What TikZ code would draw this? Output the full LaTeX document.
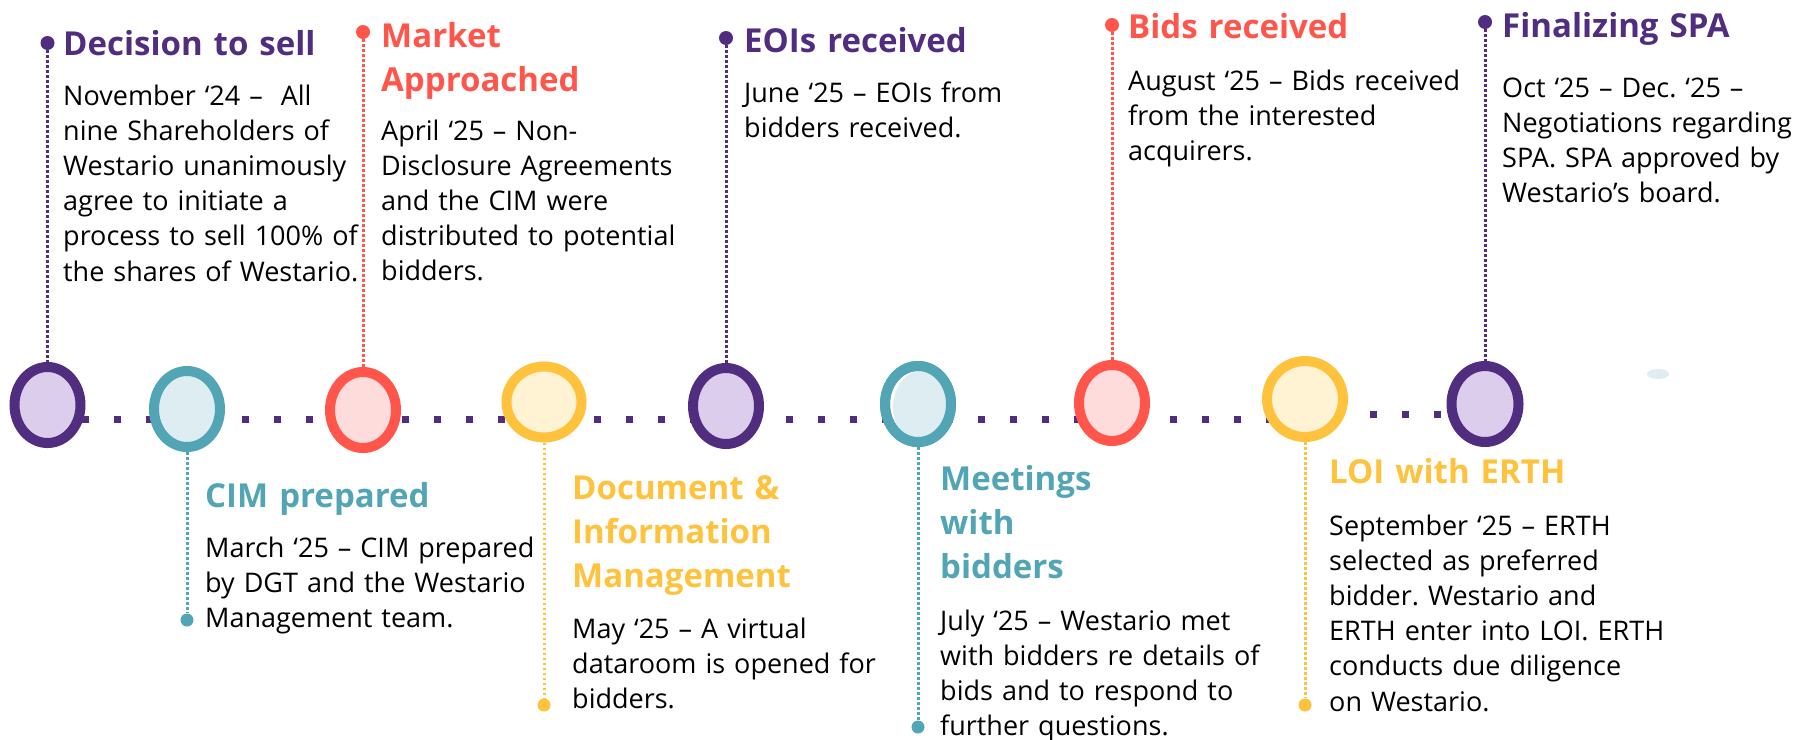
\documentclass[tikz,border=0pt]{standalone}
\usepackage{fontspec}
\setmainfont{Open Sans}
\usetikzlibrary{shapes.geometric,backgrounds}
\definecolor{cpur}{HTML}{502D7F}
\definecolor{cpurL}{HTML}{DBCDEB}
\definecolor{cteal}{HTML}{52A5B5}
\definecolor{ctealL}{HTML}{DDEDF1}
\definecolor{cred}{HTML}{FF554B}
\definecolor{credL}{HTML}{FFDCDC}
\definecolor{cyel}{HTML}{FFC23D}
\definecolor{cyelL}{HTML}{FFF3D4}
\frenchspacing
\hyphenpenalty=10000
\begin{document}
\begin{tikzpicture}[x=1pt,y=-1pt,
  ring/.style={ellipse, line width=10pt, inner sep=0pt, minimum width=66pt, minimum height=76pt},
  pin/.style={circle, inner sep=0pt, minimum size=14pt},
  bpin/.style={circle, inner sep=0pt, minimum size=13pt},
  vline/.style={line width=3pt, dash pattern=on 2.5pt off 2.5pt},
  hline/.style={draw=cpur, line width=7pt, dash pattern=on 7pt off 25pt},
  head/.style={anchor=base west, inner sep=0pt, text width=400pt, align=left, font=\fontsize{33}{44}\selectfont\bfseries},
  body/.style={anchor=base west, inner sep=0pt, text width=400pt, align=left, text=black, font=\fontsize{27}{35.2}\selectfont},
]
\useasboundingbox (0,0) rectangle (1806,739);

% timeline rings
\node[ring, draw=cpur, fill=cpurL] (c1) at (47.5,405) {};
\node[ring, draw=cteal, fill=ctealL] (c2) at (187,409) {};
\node[ring, draw=cred, fill=credL] (c3) at (363,410) {};
\node[ring, draw=cyel, fill=cyelL, minimum width=75pt, minimum height=71pt] (c4) at (544,402) {};
\node[ring, draw=cpur, fill=cpurL] (c5) at (726,406) {};
\node[ring, draw=cteal, fill=white] (c6) at (918,404) {};
\fill[ctealL] (924,407) ellipse [x radius=31, y radius=37];
\draw[cteal, line width=10pt] (c6.center) ellipse [x radius=33, y radius=38];
\node[ring, draw=cred, fill=credL] (c7) at (1112,403) {};
\node[ring, draw=cyel, fill=cyelL, minimum width=76pt, minimum height=76pt] (c8) at (1305,399) {};
\node[ring, draw=cpur, fill=cpurL, minimum width=67pt] (c9) at (1485,404) {};
\node[ellipse, fill=ctealL, inner sep=0pt, minimum width=22pt, minimum height=10pt] (sm) at (1658,374) {};

% pins
\node[pin, fill=cpur] (p1) at (47.5,43) {};
\node[pin, fill=cred] (p3) at (363,32) {};
\node[pin, fill=cpur] (p5) at (726,38) {};
\node[pin, fill=cred] (p7) at (1112,25) {};
\node[pin, fill=cpur] (p9) at (1485,22) {};
\node[bpin, fill=cteal] (p2) at (187,620) {};
\node[bpin, fill=cyel] (p4) at (544,705) {};
\node[bpin, fill=cteal] (p6) at (918,727) {};
\node[bpin, fill=cyel] (p8) at (1305,705) {};

% dotted timeline and connectors
\coordinate (h1s) at (81.5,419);
\coordinate (h1e) at (1272.5,419);
\coordinate (h2s) at (1369.5,414);
\coordinate (h2e) at (1440.5,414);
\begin{pgfonlayer}{background}
\draw[hline] (h1s) -- (h1e);
\draw[hline] (h2s) -- (h2e);
\draw[vline, cpur] (p1) -- (c1);
\draw[vline, cred] (p3) -- (c3);
\draw[vline, cpur] (p5) -- (c5);
\draw[vline, cred] (p7) -- (c7);
\draw[vline, cpur] (p9) -- (c9);
\draw[vline, cteal] (c2) -- (p2);
\draw[vline, cyel] (c4) -- (p4);
\draw[vline, cteal] (c6) -- (p6);
\draw[vline, cyel] (c8) -- (p8);
\end{pgfonlayer}

% texts above
\node[head, text=cpur] (h1) at (63,55) {Decision to sell};
\node[body] (b1) at (63,105) {November ‘24 –\ \ All\\nine Shareholders of\\Westario unanimously\\agree to initiate a\\process to sell 100\% of\\the shares of Westario.};
\node[head, text=cred] (h3) at (381,47) {Market\\Approached};
\node[body] (b3) at (381,140) {April ‘25 – Non-\\Disclosure Agreements\\and the CIM were\\distributed to potential\\bidders.};
\node[head, text=cpur] (h5) at (744,52) {EOIs received};
\node[body] (b5) at (744,102) {June ‘25 – EOIs from\\bidders received.};
\node[head, text=cred] (h7) at (1128,38) {Bids received};
\node[body] (b7) at (1128,90) {August ‘25 – Bids received\\from the interested\\acquirers.};
\node[head, text=cpur, text width=304pt] (h9) at (1502,37) {Finalizing SPA};
\node[body, text width=304pt] (b9) at (1502,97) {Oct ‘25 – Dec. ‘25 –\\Negotiations regarding\\SPA. SPA approved by\\Westario’s board.};

% texts below
\node[head, text=cteal] (h2) at (205,507) {CIM prepared};
\node[body] (b2) at (205,557) {March ‘25 – CIM prepared\\by DGT and the Westario\\Management team.};
\node[head, text=cyel] (h4) at (572,499) {Document \&\\Information\\Management};
\node[body] (b4) at (572,638) {May ‘25 – A virtual\\dataroom is opened for\\bidders.};
\node[head, text=cteal] (h6) at (940,490) {Meetings\\with\\bidders};
\node[body] (b6) at (940,630) {July ‘25 – Westario met\\with bidders re details of\\bids and to respond to\\further questions.};
\node[head, text=cyel] (h8) at (1329,483) {LOI with ERTH};
\node[body] (b8) at (1329,535) {September ‘25 – ERTH\\selected as preferred\\bidder. Westario and\\ERTH enter into LOI. ERTH\\conducts due diligence\\on Westario.};
\end{tikzpicture}
\end{document}
